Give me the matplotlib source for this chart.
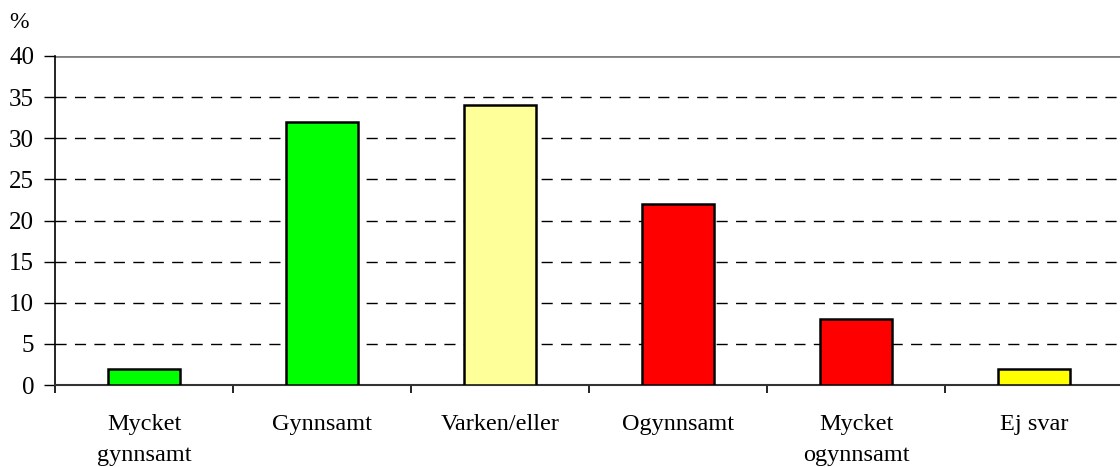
import matplotlib
matplotlib.use("Agg")
import matplotlib.pyplot as plt
import numpy as np

categories = ["Mycket\ngynnsamt", "Gynnsamt", "Varken/eller", "Ogynnsamt", "Mycket\nogynnsamt", "Ej svar"]
values = [2, 32, 34, 22, 8, 2]
colors = ["#00FF00", "#00FF00", "#FFFF99", "#FF0000", "#FF0000", "#FFFF00"]
yticks = [0, 5, 10, 15, 20, 25, 30, 35, 40]

plt.rcParams['font.family'] = ['Liberation Serif', 'DejaVu Serif']

fig = plt.figure(figsize=(11.2, 4.67), dpi=100)
ax = fig.add_axes([55/1120, 1-385/467, 1068/1120, (385-56)/467])

x = np.arange(len(categories))
ax.bar(x, values, width=0.4, color=colors, edgecolor="black", linewidth=1.8, zorder=3)

ax.set_xlim(-0.5, len(categories) - 0.5)
ax.set_ylim(0, 40)
ax.set_yticks(yticks)
ax.set_yticklabels([str(t) for t in yticks], fontsize=18)
for t in yticks[1:-1]:
    ax.axhline(t, color="black", linewidth=1, linestyle=(0, (8, 6)), zorder=1)
ax.axhline(40, color="#808080", linewidth=2, zorder=1)

ax.set_xticks(x)
ax.set_xticklabels(categories, fontsize=17.5, linespacing=1.6)
ax.tick_params(axis='x', length=0, pad=21)
ax.set_xticks(np.arange(len(categories)) - 0.5, minor=True)
ax.tick_params(axis='x', which='minor', length=6, width=1.2, direction='out')
ax.tick_params(axis='y', length=8, width=1, direction='out', pad=7)

ax.spines['top'].set_visible(False)
ax.spines['right'].set_visible(False)
ax.spines['left'].set_linewidth(1.2)
ax.spines['bottom'].set_linewidth(1.5)
ax.spines['bottom'].set_color("#333333")

fig.text(9/1120, 1-22/467, "%", fontsize=17, va='center', ha='left')

fig.savefig("out.png", dpi=100)
